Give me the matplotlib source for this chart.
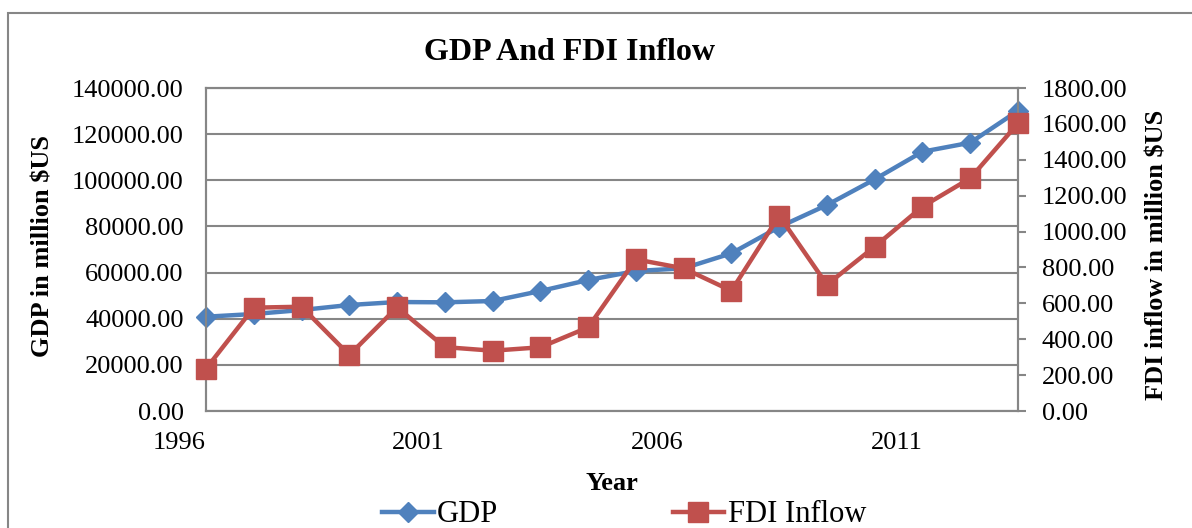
import numpy as np
import matplotlib.pyplot as plt
import matplotlib.patches as patches
from matplotlib.ticker import FuncFormatter

plt.rcParams['font.family'] = ['Liberation Serif', 'DejaVu Serif']

years = [1996, 1997, 1998, 1999, 2000, 2001, 2002, 2003, 2004,
         2005, 2006, 2007, 2008, 2009, 2010, 2011, 2012, 2013]
gdp = [40870, 42040, 43770, 45940, 47240, 47100, 47670, 52000, 56770,
       60680, 61840, 68340, 79750, 89280, 100420, 112390, 116290, 130150]
fdi = [236, 576, 581, 312, 578, 356, 336, 355, 466,
       845, 795, 670, 1088, 704, 916, 1139, 1297, 1603]
year_ticks = [1996, 2001, 2006, 2011]
gdp_ticks = np.arange(0, 140001, 20000)
fdi_ticks = np.arange(0, 1801, 200)

blue = '#4F81BD'
red = '#C0504D'
grid_c = '#868686'

fig = plt.figure(figsize=(11.92, 5.28), dpi=100)
ax = fig.add_axes([206 / 1192, 1 - 411 / 528, 812 / 1192, 323 / 528])
ax2 = ax.twinx()

# outer chart border
fig.add_artist(patches.Rectangle((8 / 1192, -0.2), 1.2, 1.2 - 13 / 528,
                                 transform=fig.transFigure, fill=False,
                                 edgecolor=grid_c, linewidth=1.5))

l1, = ax.plot(years, gdp, color=blue, lw=3.2, marker='D', ms=10,
              label='GDP', zorder=3, clip_on=False)
l2, = ax2.plot(years, fdi, color=red, lw=3.2, marker='s', ms=14,
               label='FDI Inflow', zorder=3, clip_on=False)

ax.set_xlim(1996, 2013)
ax.set_ylim(0, 140000)
ax2.set_ylim(0, 1800)
ax.set_yticks(gdp_ticks)
ax2.set_yticks(fdi_ticks)
ax.set_xticks(year_ticks)
ax.set_xticklabels([str(y) for y in year_ticks], ha='right')

fmt = FuncFormatter(lambda v, p: f'{v:.2f}')
ax.yaxis.set_major_formatter(fmt)
ax2.yaxis.set_major_formatter(fmt)

ax.grid(True, axis='y', color=grid_c, linewidth=1.5)
ax.set_axisbelow(True)

ax.tick_params(axis='y', length=0, pad=16, labelsize=19)
ax.tick_params(axis='x', length=0, pad=15, labelsize=19)
ax2.tick_params(axis='y', length=6, width=1.5, color=grid_c, direction='out',
                pad=11, labelsize=19)

for a in (ax, ax2):
    for s in a.spines.values():
        s.set_color(grid_c)
        s.set_linewidth(1.5)

fig.text(569 / 1192, 1 - 52 / 528, 'GDP And FDI Inflow', ha='center',
         va='center', fontsize=23, fontweight='bold')
fig.text(43 / 1192, 1 - 246 / 528, 'GDP in million $US', ha='center',
         va='center', rotation=90, fontsize=19, fontweight='bold')
fig.text(1157 / 1192, 1 - 255 / 528, 'FDI inflow in million $US', ha='center',
         va='center', rotation=90, fontsize=19, fontweight='bold')
fig.text(612 / 1192, 1 - 483 / 528, 'Year', ha='center', va='center',
         fontsize=19, fontweight='bold')

fig.legend([l1, l2], ['GDP', 'FDI Inflow'], loc='center', ncol=2,
           bbox_to_anchor=(624 / 1192, 1 - 515 / 528), frameon=False,
           fontsize=22, handlelength=1.7, handletextpad=0.1,
           columnspacing=5.7)

fig.savefig('out.png', dpi=100)
